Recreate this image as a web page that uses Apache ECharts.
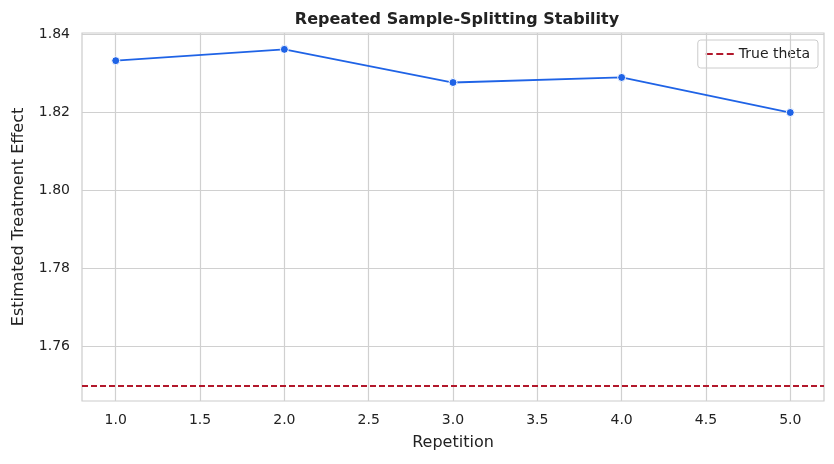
<!DOCTYPE html>
<html><head><meta charset="utf-8">
<script src="https://cdn.jsdelivr.net/npm/echarts@6/dist/echarts.min.js"></script>
<style>html,body{margin:0;background:#fff}#main{width:834px;height:464px}</style>
</head><body><div id="main"></div>
<script>
var repetitions = [1, 2, 3, 4, 5];
var estimates = [1.8333, 1.8362, 1.8277, 1.8290, 1.8200];
var trueTheta = 1.75;
var xTicks = [1.0, 1.5, 2.0, 2.5, 3.0, 3.5, 4.0, 4.5, 5.0];
var yTicks = [1.76, 1.78, 1.80, 1.82, 1.84];

var chart = echarts.init(document.getElementById('main'));
var gridLines = xTicks.map(function (v) { return { xAxis: v }; })
  .concat(yTicks.map(function (v) { return { yAxis: v }; }));
function near(v, step) { return Math.abs(v / step - Math.round(v / step)) < 1e-6; }
var font = 'DejaVu Sans';
var red = '#b2182b';

chart.setOption({
  animation: false,
  textStyle: { fontFamily: font },
  title: { text: 'Repeated Sample-Splitting Stability', left: 452, top: 7, textAlign: 'center',
    textStyle: { fontSize: 16, fontWeight: 'bold', color: '#222', fontFamily: font } },
  legend: { right: 16, top: 40, orient: 'vertical', backgroundColor: '#fff', borderColor: '#ccc', borderWidth: 1,
    borderRadius: 3, padding: [7, 8], itemWidth: 28, itemHeight: 2, itemGap: 8,
    icon: 'path://M0,0h7v2h-7zM10.5,0h7v2h-7zM21,0h7v2h-7z',
    textStyle: { fontSize: 14, color: '#222' }, data: ['True theta'] },
  grid: { left: 82, right: 10, top: 33, bottom: 63, show: true, borderColor: '#ccc', borderWidth: 1.2 },
  xAxis: { type: 'value', min: 0.8, max: 5.2, interval: 0.1, name: 'Repetition', nameLocation: 'middle', nameGap: 34,
    nameTextStyle: { fontSize: 16, color: '#222' },
    axisLine: { show: false }, axisTick: { show: false }, splitLine: { show: false },
    axisLabel: { fontSize: 14, color: '#222', margin: 12, showMinLabel: false, showMaxLabel: false,
      formatter: function (v) { return near(v, 0.5) && v > 0.9 && v < 5.1 ? v.toFixed(1) : ''; } } },
  yAxis: { type: 'value', min: 1.746, max: 1.8404, interval: 0.002, name: 'Estimated Treatment Effect',
    nameLocation: 'middle', nameGap: 55, nameTextStyle: { fontSize: 16, color: '#222' },
    axisLine: { show: false }, axisTick: { show: false }, splitLine: { show: false },
    axisLabel: { fontSize: 14, color: '#222', margin: 12, showMaxLabel: false,
      formatter: function (v) { return near(v, 0.02) && v > 1.75 ? v.toFixed(2) : ''; } } },
  series: [
    { type: 'line', name: 'grid', data: [], silent: true,
      markLine: { symbol: 'none', silent: true, label: { show: false },
        lineStyle: { color: '#d0d0d0', width: 1.2, type: 'solid' }, data: gridLines } },
    { type: 'line', name: 'True theta', data: [], symbol: 'none', itemStyle: { color: red },
      lineStyle: { color: red, type: [6, 3], width: 1.8 },
      markLine: { symbol: 'none', silent: true, label: { show: false },
        lineStyle: { color: red, type: [6, 3], width: 1.8 }, data: [{ yAxis: trueTheta }] } },
    { type: 'line', name: 'estimate', data: repetitions.map(function (r, i) { return [r, estimates[i]]; }),
      symbol: 'circle', symbolSize: 8, itemStyle: { color: '#1f63e6', borderColor: '#fff', borderWidth: 1 },
      lineStyle: { color: '#1f63e6', width: 1.8 }, z: 5 }
  ]
});
</script></body></html>
